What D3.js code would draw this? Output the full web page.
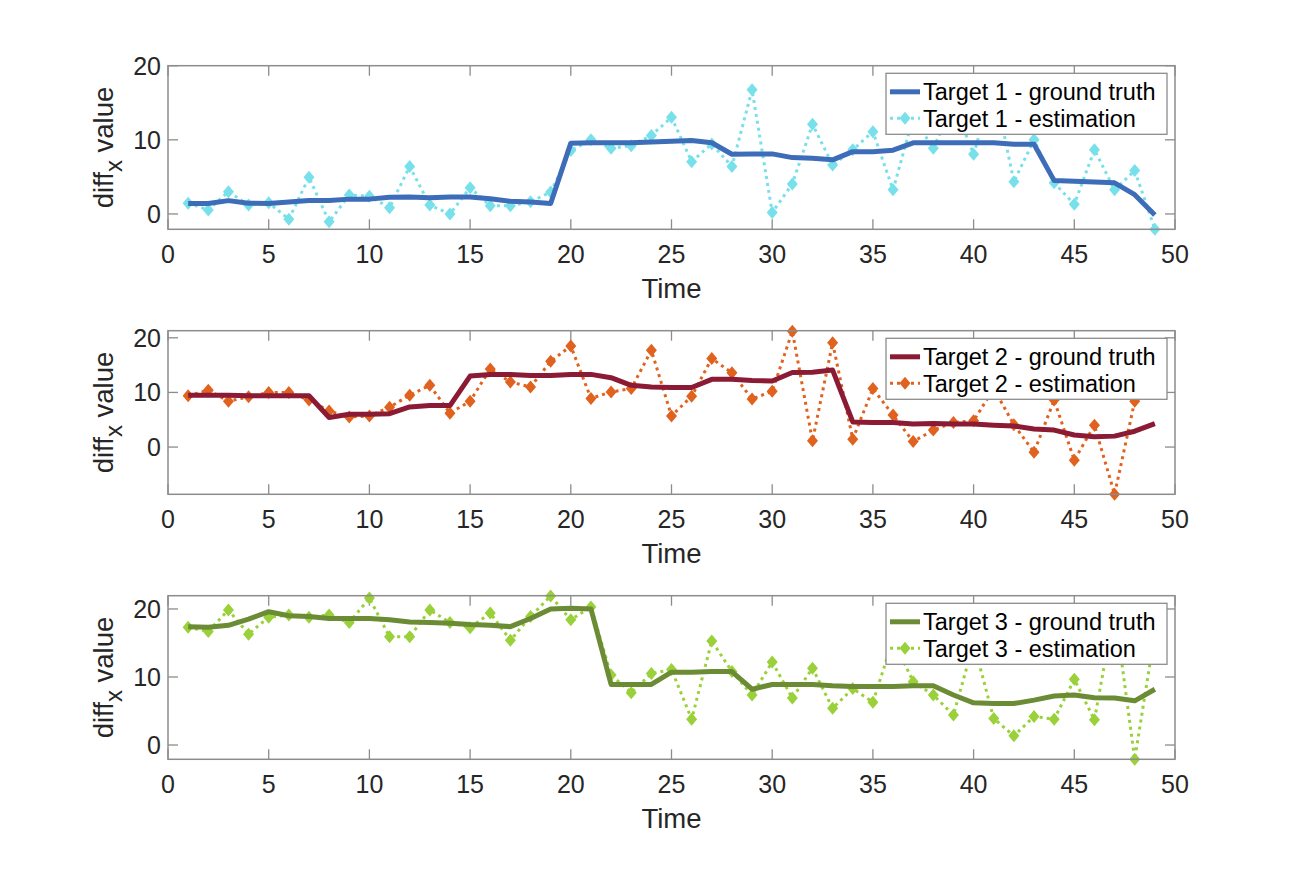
<!DOCTYPE html>
<html>
<head>
<meta charset="utf-8">
<script src="https://cdn.jsdelivr.net/npm/d3@7"></script>
<style>
  body { margin: 0; background: #fff; }
  text { font-family: "Liberation Sans", Arial, Helvetica, sans-serif; fill: #262626; }
</style>
</head>
<body>
<script>
// Les donnees
var time = [1,2,3,4,5,6,7,8,9,10,11,12,13,14,15,16,17,18,19,20,21,22,23,24,25,
            26,27,28,29,30,31,32,33,34,35,36,37,38,39,40,41,42,43,44,45,46,47,48,49];

var gt1 = [1.4,1.4,1.8,1.45,1.4,1.6,1.8,1.8,2.0,2.0, 2.25,2.3,2.2,2.3,2.3,2.05,1.7,1.6,1.4,9.55,
           9.6,9.6,9.6,9.7,9.8,9.9,9.6,8.05,8.1,8.1, 7.6,7.5,7.3,8.4,8.4,8.6,9.6,9.6,9.6,9.6,
           9.6,9.4,9.4,4.5,4.4,4.3,4.2,2.6,-0.15];
var est1 = [1.45,0.55,3.0,1.2,1.5,-0.7,4.95,-1.05,2.55,2.4, 0.85,6.4,1.2,0.0,3.55,1.1,1.1,1.65,2.95,8.55,
            10.0,8.85,9.2,10.6,13.05,7.05,9.45,6.4,16.75,0.2, 4.05,12.1,6.6,8.65,11.1,3.25,13.0,8.85,15.0,8.05,
            17.5,4.35,10.0,4.2,1.3,8.65,3.25,5.85,-2.05];

var gt2 = [9.5,9.5,9.5,9.4,9.4,9.4,9.4,5.4,6.0,6.0, 6.1,7.35,7.6,7.6,13.0,13.3,13.3,13.1,13.1,13.3,
           13.3,12.7,11.3,11.0,10.9,10.9,12.4,12.4,12.2,12.1, 13.65,13.7,14.1,4.6,4.5,4.5,4.2,4.3,4.2,4.2,
           4.0,3.85,3.3,3.1,2.2,1.9,2.0,2.9,4.3];
var est2 = [9.4,10.4,8.4,9.2,10.0,10.0,8.6,6.6,5.5,5.7, 7.3,9.5,11.3,6.2,8.4,14.3,11.9,11.0,15.7,18.5,
            8.9,10.1,10.7,17.7,5.7,9.3,16.2,13.6,8.8,10.2, 21.2,1.15,19.1,1.45,10.7,5.85,1.0,3.1,4.5,4.8,
            10.7,4.1,-0.95,8.6,-2.4,4.0,-8.65,8.4,15.0];

var gt3 = [17.4,17.3,17.6,18.5,19.6,19.0,18.9,18.6,18.6,18.6, 18.4,18.1,18.0,17.9,17.7,17.6,17.4,18.6,20.0,20.1,
           20.0,8.9,8.9,8.9,10.7,10.7,10.8,10.8,8.2,8.9, 8.9,8.9,8.7,8.6,8.6,8.6,8.7,8.7,7.35,6.2,
           6.1,6.1,6.6,7.2,7.35,6.95,6.9,6.5,8.2];
var est3 = [17.3,16.7,19.85,16.3,18.8,19.1,18.8,19.1,18.0,21.6, 15.9,15.9,19.85,18.0,17.25,19.4,15.4,18.9,21.9,18.4,
            20.3,10.3,7.7,10.5,11.1,3.8,15.3,10.8,7.35,12.2, 6.9,11.3,5.4,8.3,6.3,15.5,9.3,7.35,4.4,15.0,
            3.9,1.35,4.2,3.8,9.65,3.7,20.0,-2.1,16.5];

var yLim1 = [-2.07, 20];
var yLim2 = [-8.65, 21.3];
var yLim3 = [-2.1, 21.95];

var xTicks = [0,5,10,15,20,25,30,35,40,45,50];
var yTicks = [0,10,20];

var panels = [
  {gt: gt1, est: est1, lim: yLim1, name: "Target 1", gtColor: "#3d6db8", estColor: "#78e0ea"},
  {gt: gt2, est: est2, lim: yLim2, name: "Target 2", gtColor: "#8b1a35", estColor: "#e0621e"},
  {gt: gt3, est: est3, lim: yLim3, name: "Target 3", gtColor: "#6b8c34", estColor: "#9ad13a"}
];

// Les dimensions
var W = 1297, H = 884;
var left = 168, right = 1175;
var tops = [65.7, 330.7, 595.7];
var ph = 163.6;

var svg = d3.select("body").append("svg")
            .attr("width", W)
            .attr("height", H)
            .style("background", "#fff");

var x = d3.scaleLinear().domain([0, 50]).range([left, right]);

var diamond = function(cx, cy) {
  return "M" + cx + "," + (cy - 6.5) + "L" + (cx + 5.5) + "," + cy +
         "L" + cx + "," + (cy + 6.5) + "L" + (cx - 5.5) + "," + cy + "Z";
};

panels.forEach(function(p, i) {
  var top = tops[i], bottom = top + ph;
  var y = d3.scaleLinear().domain(p.lim).range([bottom, top]);

  var g = svg.append("g");

  // ticks dedans sur les 4 cotes
  var ticksG = g.append("g").attr("stroke", "#8c8c8c").attr("stroke-width", 1.3);
  xTicks.forEach(function(t) {
    ticksG.append("line").attr("x1", x(t)).attr("x2", x(t)).attr("y1", bottom).attr("y2", bottom - 10);
    ticksG.append("line").attr("x1", x(t)).attr("x2", x(t)).attr("y1", top).attr("y2", top + 10);
  });
  yTicks.forEach(function(t) {
    ticksG.append("line").attr("x1", left).attr("x2", left + 10).attr("y1", y(t)).attr("y2", y(t));
    ticksG.append("line").attr("x1", right).attr("x2", right - 10).attr("y1", y(t)).attr("y2", y(t));
  });

  // labels des ticks
  g.selectAll(".xt").data(xTicks).enter().append("text")
   .attr("x", function(d) { return x(d); })
   .attr("y", bottom + 34)
   .attr("text-anchor", "middle")
   .style("font-size", "25px")
   .text(function(d) { return d; });

  g.selectAll(".yt").data(yTicks).enter().append("text")
   .attr("x", left - 7)
   .attr("y", function(d) { return y(d) + 9; })
   .attr("text-anchor", "end")
   .style("font-size", "25px")
   .text(function(d) { return d; });

  // Time
  g.append("text")
   .attr("x", (left + right) / 2)
   .attr("y", bottom + 69)
   .attr("text-anchor", "middle")
   .style("font-size", "27.5px")
   .text("Time");

  // diff_x value
  var yl = g.append("text")
            .attr("transform", "translate(113," + (top + ph / 2) + ") rotate(-90)")
            .attr("text-anchor", "middle")
            .style("font-size", "27.5px");
  yl.append("tspan").text("diff");
  yl.append("tspan").attr("dy", 9).style("font-size", "24px").text("x");
  yl.append("tspan").attr("dy", -9).text(" value");

  // courbes
  var line = d3.line()
               .x(function(d, j) { return x(time[j]); })
               .y(function(d) { return y(d); });

  g.append("path")
   .attr("d", line(p.est))
   .attr("fill", "none")
   .attr("stroke", p.estColor)
   .attr("stroke-width", 3)
   .attr("stroke-dasharray", "3,4");

  g.selectAll(".mk").data(p.est).enter().append("path")
   .attr("d", function(d, j) { return diamond(x(time[j]), y(d)); })
   .attr("fill", p.estColor);

  g.append("path")
   .attr("d", line(p.gt))
   .attr("fill", "none")
   .attr("stroke", p.gtColor)
   .attr("stroke-width", 5)
   .attr("stroke-linejoin", "round");

  // le cadre
  g.append("rect")
   .attr("x", left).attr("y", top)
   .attr("width", right - left).attr("height", ph)
   .attr("fill", "none")
   .attr("stroke", "#8c8c8c")
   .attr("stroke-width", 1.5);

  // legende
  var lx = 886, ly = top + 7.6;
  var lg = g.append("g");
  lg.append("rect")
    .attr("x", lx).attr("y", ly)
    .attr("width", 1167 - lx).attr("height", 61)
    .attr("fill", "#fff")
    .attr("stroke", "#8c8c8c")
    .attr("stroke-width", 1.3);
  var r1 = ly + 18.5, r2 = ly + 45;
  lg.append("line")
    .attr("x1", lx + 4).attr("x2", lx + 34).attr("y1", r1).attr("y2", r1)
    .attr("stroke", p.gtColor).attr("stroke-width", 5);
  lg.append("line")
    .attr("x1", lx + 4).attr("x2", lx + 34).attr("y1", r2).attr("y2", r2)
    .attr("stroke", p.estColor).attr("stroke-width", 3).attr("stroke-dasharray", "3,4");
  lg.append("path").attr("d", diamond(lx + 19, r2)).attr("fill", p.estColor);
  lg.append("text").attr("x", lx + 37).attr("y", r1 + 8.5).style("font-size", "23.5px").style("fill", "#000")
    .text(p.name + " - ground truth");
  lg.append("text").attr("x", lx + 37).attr("y", r2 + 8.5).style("font-size", "23.5px").style("fill", "#000")
    .text(p.name + " - estimation");
});
</script>
</body>
</html>
